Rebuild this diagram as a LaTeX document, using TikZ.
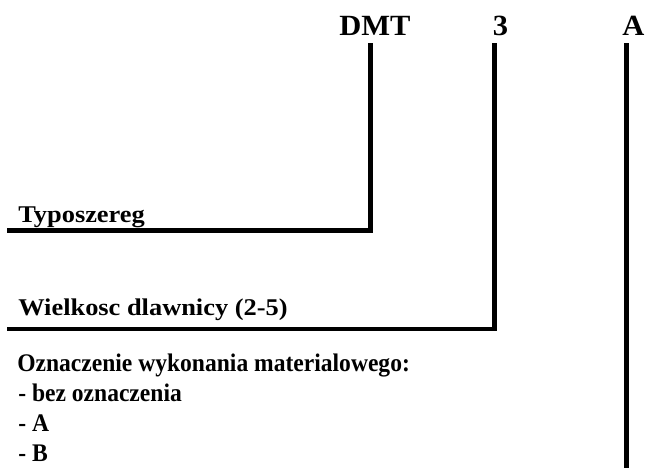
\documentclass[tikz,border=0pt]{standalone}
\usepackage{fontspec}
\setmainfont{Liberation Serif}
\usetikzlibrary{positioning}
\tikzset{
	code/.style={inner sep=0pt,anchor=base,font=\fontsize{22}{26}\selectfont\bfseries\addfontfeature{FakeStretch=1.04}},
	desc/.style={inner sep=0pt,anchor=base west,font=\fontsize{18}{22}\selectfont\bfseries\addfontfeature{FakeStretch=1.1}},
	opts/.style={inner sep=0pt,anchor=base west,font=\fontsize{19}{22}\selectfont\bfseries\addfontfeature{FakeStretch=0.93}},
	lead/.style={line width=3.4pt}
}

\begin{document}
\begin{tikzpicture}[x=0.75pt,y=-0.75pt]
			\useasboundingbox (0,0) rectangle (647,468);
			\def\ytop{43}
			\def\dy{30}
			% parts of the type code
			\node[code] (dmt) at (375,35) {DMT};
			\node[code] (size) at (500.5,35) {3};
			\node[code] (mat) at (633.5,35) {A};
			% what each part means
			\node[desc] (typ) at (18,222) {Typoszereg};
			\node[desc] (wlk) at (18,315) {Wielkosc dlawnicy (2-5)};
			\node[opts] (ozn) at (17,371) {Oznaczenie wykonania materialowego:};
			\foreach \i/\txt in {1/- bez oznaczenia,2/- A,3/- B}
			{
				\node[opts] (opt\i) at (18,371+\i*\dy) {\txt};
			}
			% leaders
			\coordinate (dmtTop) at (370.5,\ytop);
			\coordinate (sizeTop) at (494.5,\ytop);
			\coordinate (matTop) at (626.5,\ytop);
			\coordinate (typEnd) at (7,230.5);
			\coordinate (wlkEnd) at (7,329);
			\coordinate (matEnd) at (626.5,468);
			\draw[lead] (dmtTop) |- (typEnd);
			\draw[lead] (sizeTop) |- (wlkEnd);
			\draw[lead] (matTop) -- (matEnd);
		\end{tikzpicture}
\end{document}
